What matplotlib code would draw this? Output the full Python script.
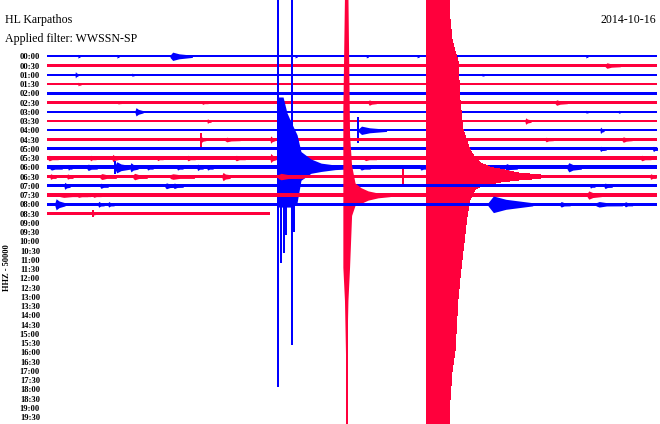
import numpy as np
import matplotlib
matplotlib.use("Agg")
import matplotlib.pyplot as plt

plt.rcParams['font.family'] = ['Liberation Serif', 'DejaVu Serif']

# one row = 30 minutes, labels for every row of the day shown
row_labels = [f"{h:02d}:{m:02d}" for h in range(20) for m in (0, 30)]

# background noise (half width, in row spacings) and end of data per row (minutes)
row_noise = [0.12, 0.13, 0.12, 0.12, 0.14, 0.12, 0.12, 0.13, 0.12,
             0.12, 0.16, 0.18, 0.2, 0.2, 0.16, 0.17, 0.17, 0.13]
row_end = [30] * 17 + [10.97]

# small events: row, onset minute, peak amplitude, duration (minutes)
ev_row = [0, 0, 0, 0, 0, 0, 0, 1, 2, 2, 2, 3, 5, 5, 5, 5, 6, 6, 6, 7, 7, 8, 8,
          9, 9, 9, 9, 9, 10, 10, 11, 11, 11, 11, 12, 12, 12, 12, 12, 12,
          13, 13, 13, 14, 14, 14, 15, 15, 16, 16, 16, 16, 16, 17,
          11, 11, 11, 11, 12, 12, 12, 12, 12, 12, 13, 13, 13, 13, 13,
          14, 14, 14, 15, 15, 16, 16, 10, 10, 12, 11]
ev_min = [6.05, 1.52, 3.44, 12.2, 15.7, 18.2, 26.5, 27.45, 1.38, 4.18, 21.4, 1.52,
          3.49, 7.62, 15.8, 24.99, 4.33, 26.51, 28.1, 7.87, 23.51, 15.30, 27.2,
          7.57, 8.75, 10.97, 24.5, 28.28, 27.2, 29.8, 0.05, 9.25, 10.97, 29.2,
          3.34, 4.08, 7.38, 18.35, 22.53, 25.58, 8.61, 11.36, 29.66,
          0.84, 5.80, 26.7, 2.26, 26.56, 0.39, 2.51, 21.69, 25.23, 28.4, 2.26,
          2.11, 3.2, 5.41, 6.89, 0.15, 1.03, 1.97, 4.92, 6.39, 7.87, 0.15, 0.98,
          2.61, 4.23, 6.05, 2.61, 6.2, 27.4, 0.64, 1.5, 3.0, 27.0, 27.2, 29.8,
          15.4, 15.6]
ev_amp = [0.45, 0.22, 0.22, 0.2, 0.2, 0.18, 0.2, 0.3, 0.35, 0.2, 0.18, 0.2,
          0.18, 0.2, 0.3, 0.3, 0.45, 0.18, 0.18, 0.25, 0.35, 0.45, 0.35,
          0.3, 0.25, 0.4, 0.25, 0.3, 0.28, 0.28, 0.3, 0.3, 0.5, 0.3,
          0.6, 0.5, 0.35, 0.3, 0.4, 0.5, 0.45, 0.35, 0.3,
          0.38, 0.32, 0.25, 0.25, 0.45, 0.6, 0.32, 0.9, 0.3, 0.28, 0.22,
          0.3, 0.4, 0.28, 0.3, 0.3, 0.32, 0.35, 0.3, 0.3, 0.3, 0.3, 0.28,
          0.32, 0.35, 0.3, 0.28, 0.3, 0.3, 0.25, 0.25, 0.3, 0.3, 0.25, 0.25,
          0.3, 0.28]
ev_dur = [1.1, 0.1, 0.1, 0.1, 0.1, 0.1, 0.1, 0.75, 0.15, 0.1, 0.1, 0.15,
          0.15, 0.3, 0.4, 0.6, 0.4, 0.1, 0.1, 0.2, 0.3, 1.4, 0.2,
          0.25, 0.75, 0.25, 0.4, 0.5, 0.2, 0.2, 0.5, 0.5, 0.3, 0.5,
          0.75, 0.4, 0.3, 0.4, 0.6, 0.7, 0.4, 1.25, 0.3,
          0.3, 0.6, 0.25, 0.4, 0.7, 0.5, 0.3, 2.2, 0.5, 0.4, 0.1,
          0.3, 0.3, 0.3, 0.4, 0.6, 0.2, 0.5, 0.3, 0.3, 0.3, 0.3, 0.3,
          0.8, 0.7, 1.2, 0.4, 0.5, 0.4, 1.5, 0.5, 0.3, 1.3, 0.3, 0.3,
          0.5, 0.6]

# big quakes: envelope above / below the row line (row spacings)
blue_row = 12
blue_t = [11.35, 11.35, 11.61, 11.80, 12.00, 12.30, 12.49, 12.98, 13.48, 14.17, 14.66]
blue_up = [0.2, 7.6, 7.6, 5.9, 4.9, 3.5, 1.7, 0.9, 0.45, 0.25, 0.2]
blue_down = [0.2, 4.3, 4.3, 4.3, 4.3, 3.8, 1.4, 0.65, 0.45, 0.25, 0.2]

red_row = 15
red_t = [14.55, 14.55, 14.63, 14.71, 14.80, 14.88, 14.98, 15.15, 15.44, 15.79, 16.28, 16.87]
red_up = [0.2, 9.2, 21.5, 21.5, 21.5, 6.5, 3.2, 1.3, 0.8, 0.45, 0.22, 0.17]
red_down = [0.2, 7.8, 11.4, 20.5, 11.4, 7.8, 2.2, 1.1, 0.9, 0.55, 0.3, 0.17]

big_row = 13
big_t = [18.68, 18.68, 19.72, 19.77, 19.82, 19.92, 20.07, 20.21, 20.31, 20.41,
         20.46, 20.66, 20.80, 21.05, 21.30, 21.79, 22.28, 23.26, 24.25]
big_up = [0.2, 25, 25, 19.5, 17.0, 14.8, 13.5, 12.6, 8.3, 6.0,
          5.1, 3.8, 2.9, 2.0, 1.5, 1.0, 0.8, 0.35, 0.2]
big_down = [0.2, 27, 27, 27, 24.1, 21, 18.7, 13.3, 11, 9.0,
            8, 4.2, 2.5, 1.4, 1.1, 0.8, 0.6, 0.35, 0.2]

# single large swings: row, minute, reach up, reach down
sp_row = [12, 12, 12, 12, 12, 12, 15, 8, 9, 13, 17, 12]
sp_min = [11.36, 12.03, 11.51, 11.66, 11.75, 12.15, 14.74, 15.30, 7.57, 17.51, 2.26, 3.34]
sp_up = [19, 19, 6.0, 6.0, 5.5, 4.0, 21.5, 1.4, 0.75, 0.86, 0.4, 0.7]
sp_down = [23.8, 19.2, 10.3, 9.3, 7.3, 7.0, 25, 1.4, 1.1, 0.86, 0.4, 0.7]

BLUE = '#0000ff'
RED = '#ff003c'

fig = plt.figure(figsize=(6.6, 4.24), dpi=100)
ax = fig.add_axes([47 / 660, 0, 610 / 660, 1])
ax.set_xlim(0, 30)
ax.set_ylim(39.75, -6.086)


def col(r):
    return BLUE if r % 2 == 0 else RED


def band(t, up, down, r):
    t = np.asarray(t, dtype=float)
    ax.fill_between(t, r - np.asarray(up), r + np.asarray(down),
                    color=col(r), lw=0, zorder=2 + r, antialiased=False)


for r in range(len(row_noise)):
    n = row_noise[r]
    band([0, row_end[r]], [n, n], [n, n], r)

for r, t0, a, d in zip(ev_row, ev_min, ev_amp, ev_dur):
    n = row_noise[r]
    shape = [n, a, max(n, 0.6 * a), n]
    band([t0, t0 + 0.12 * d, t0 + 0.4 * d, t0 + d], shape, shape, r)

band(blue_t, blue_up, blue_down, blue_row)
band(red_t, red_up, red_down, red_row)
band(big_t, big_up, big_down, big_row)

for r, t0, u, d in zip(sp_row, sp_min, sp_up, sp_down):
    ax.vlines(t0, r - u, r + d, color=col(r), lw=1.4, zorder=2 + r, antialiased=False)

ax.set_yticks(range(len(row_labels)))
ax.set_yticklabels(row_labels, fontsize=6.2, fontweight='bold')
ax.tick_params(axis='y', length=0, pad=5)
ax.set_xticks([])
for s in ax.spines.values():
    s.set_visible(False)

fig.text(5 / 660, 1 - 23 / 424, 'HL Karpathos', fontsize=8.6, va='baseline')
fig.text(5 / 660, 1 - 42 / 424, 'Applied filter: WWSSN-SP', fontsize=8.6, va='baseline')
fig.text(656 / 660, 1 - 23 / 424, '2014-10-16', fontsize=8.6, va='baseline', ha='right')
fig.text(7 / 660, 1 - 268 / 424, 'HHZ - 50000', fontsize=6, fontweight='bold',
         rotation=90, ha='center', va='center')

fig.savefig('out.png', dpi=100)
